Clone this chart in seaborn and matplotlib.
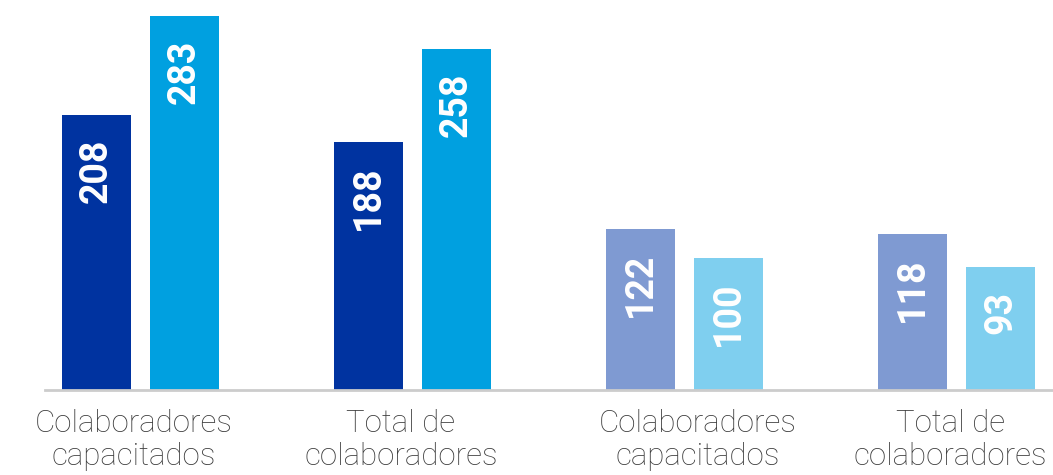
import matplotlib
matplotlib.use("Agg")
import matplotlib.pyplot as plt
import matplotlib.transforms as mtransforms
import seaborn as sns
import pandas as pd

# ---- data ----
group_keys = ["G1", "G2", "G3", "G4"]
group_labels = ["Colaboradores\ncapacitados", "Total de\ncolaboradores",
                "Colaboradores\ncapacitados", "Total de\ncolaboradores"]
series_names = ["Serie 1", "Serie 2"]
serie1_values = [208, 188, 122, 118]
serie2_values = [283, 258, 100, 93]

bar_colors = {
    ("G1", "Serie 1"): "#0033A0", ("G1", "Serie 2"): "#00A0E0",
    ("G2", "Serie 1"): "#0033A0", ("G2", "Serie 2"): "#00A0E0",
    ("G3", "Serie 1"): "#7F9AD2", ("G3", "Serie 2"): "#7FCFEF",
    ("G4", "Serie 1"): "#7F9AD2", ("G4", "Serie 2"): "#7FCFEF",
}
# small horizontal offsets of the category labels (pixels)
label_dx = [-6.5, -11.5, 13.5, -6]

df = pd.DataFrame({
    "grupo": group_keys * 2,
    "serie": [series_names[0]] * 4 + [series_names[1]] * 4,
    "valor": serie1_values + serie2_values,
})

sns.set_theme(style="white")
plt.rcParams["font.family"] = ["Roboto", "DejaVu Sans"]

fig = plt.figure(figsize=(10.53, 4.75), dpi=100)
ax = fig.add_axes([0, 85 / 475, 1, 390 / 475])

sns.barplot(data=df, x="grupo", y="valor", hue="serie", order=group_keys,
            hue_order=series_names, width=0.647, gap=0.216, legend=False,
            palette=["#0033A0", "#00A0E0"], ax=ax, saturation=1)

# recolor and label bars
for p in ax.patches:
    cx = p.get_x() + p.get_width() / 2
    gi = int(round(cx))
    si = 0 if cx < gi else 1
    p.set_facecolor(bar_colors[(group_keys[gi], series_names[si])])
    p.set_edgecolor("none")
    h = p.get_height()
    ax.annotate(f"{int(round(h))}", xy=(cx, h), xytext=(0, -17),
                textcoords="offset points", rotation=90, ha="center", va="top",
                color="white", fontsize=27, fontweight="bold")

ax.set_xlim(-0.5165, 3.355)
ax.set_ylim(0, 295.5)
ax.set_xlabel("")
ax.set_ylabel("")
ax.set_yticks([])
ax.set_xticks(range(len(group_keys)))
ax.set_xticklabels(group_labels, fontsize=22.5, color="#3c3c3c", fontweight="light")
ax.tick_params(axis="x", length=0, pad=14)
for t, dx in zip(ax.get_xticklabels(), label_dx):
    t.set_linespacing(1.15)
    t.set_transform(t.get_transform() +
                    mtransforms.ScaledTranslation(dx / 100, 0, fig.dpi_scale_trans))

for s in ["top", "right", "left"]:
    ax.spines[s].set_visible(False)
ax.spines["bottom"].set_color("#cccccc")
ax.spines["bottom"].set_linewidth(2)
ax.spines["bottom"].set_bounds(-0.351, 3.36)
ax.set_facecolor("none")

fig.savefig("out.png", dpi=100, facecolor="white")
